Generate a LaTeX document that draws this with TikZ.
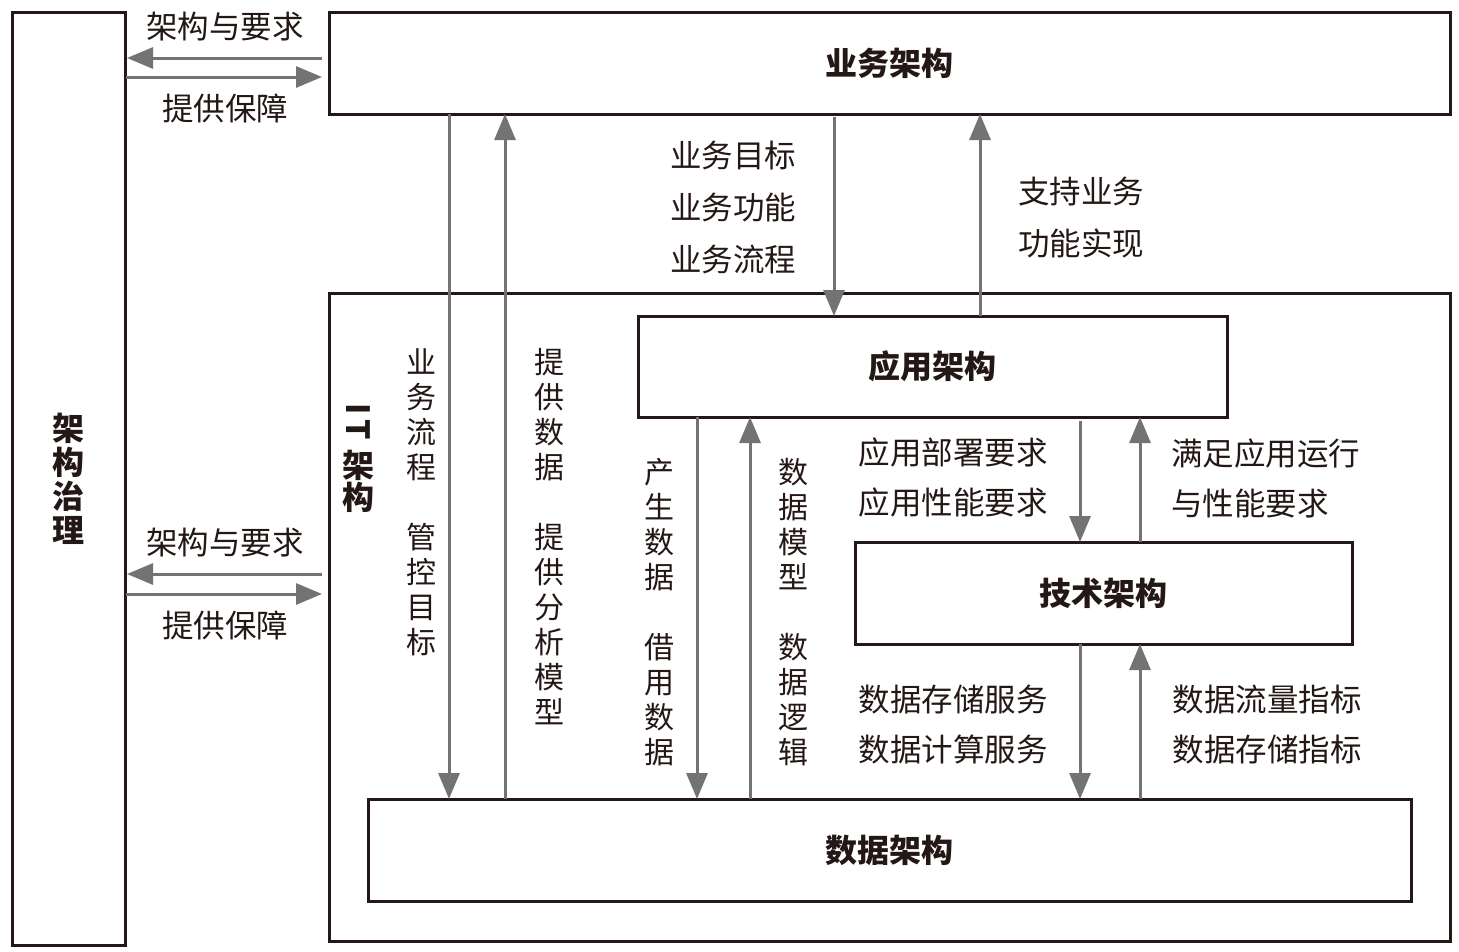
\documentclass[tikz,border=0pt]{standalone}
\usepackage{fontspec}
\setmainfont{Noto Sans CJK SC}
\usetikzlibrary{arrows.meta}
\definecolor{boxline}{HTML}{231815}
\definecolor{arrgray}{HTML}{737373}
\begin{document}
\begin{tikzpicture}[x=1pt,y=-1pt,
  box/.style={draw=boxline, line width=3pt, inner sep=0pt, outer sep=0pt, align=center,
    font=\fontsize{32}{34}\selectfont\bfseries, text=boxline},
  arr/.style={draw=arrgray, line width=3pt, -{Triangle[length=26pt,width=21pt]}},
  lbl/.style={font=\fontsize{31.5}{52}\selectfont, text=boxline, inner sep=0pt, align=center},
  lbl2/.style={font=\fontsize{31.5}{50}\selectfont, text=boxline, inner sep=0pt, align=center},
  vlbl/.style={font=\fontsize{30}{35}\selectfont, text=boxline, inner sep=0pt, align=center},
  blbl/.style={font=\fontsize{32}{32}\selectfont\bfseries, text=boxline, inner sep=0pt, align=center}
]
\useasboundingbox (0,0) rectangle (1459,951);
\fill[white] (0,0) rectangle (1459,951);

% boxes
\node[box, minimum width=113pt, minimum height=933pt] (gov) at (68.5,478.5) {架\\构\\治\\理};
\node[box, minimum width=1121pt, minimum height=102pt] (biz) at (889.5,63) {\raisebox{3pt}{业务架构}};
\node[box, minimum width=1121pt, minimum height=648pt] (it) at (889.5,617) {};
\node[box, minimum width=589pt, minimum height=101pt] (app) at (932.5,366.5) {\raisebox{3pt}{应用架构}};
\node[box, minimum width=497pt, minimum height=102pt] (tech) at (1103.5,593) {\raisebox{3pt}{技术架构}};
\node[box, minimum width=1043pt, minimum height=102pt] (data) at (889.5,850) {\raisebox{3pt}{数据架构}};

% IT label
\node[blbl, rotate=-90] (itl) at (358,422) {I\hspace{5pt}T};
\node[blbl] (itl2) at (358,481) {架\\构};

% x positions of vertical connectors
\coordinate (xa) at (449,0);
\coordinate (xb) at (505,0);
\coordinate (xc) at (834,0);
\coordinate (xd) at (980,0);
\coordinate (xe) at (697,0);
\coordinate (xf) at (750,0);
\coordinate (xg) at (1080,0);
\coordinate (xh) at (1140,0);
% y positions of horizontal connectors
\coordinate (ya) at (0,58);
\coordinate (yb) at (0,77);
\coordinate (yc) at (0,574);
\coordinate (yd) at (0,594);

% vertical connectors
\draw[arr] (xa |- biz.south) -- (xa |- data.north);
\draw[arr] (xb |- data.north) -- (xb |- biz.south);
\draw[arr, shorten <=3pt] (xc |- biz.south) -- (xc |- app.north);
\draw[arr] (xd |- app.north) -- (xd |- biz.south);
\draw[arr] (xe |- app.south) -- (xe |- data.north);
\draw[arr] (xf |- data.north) -- (xf |- app.south);
\draw[arr, shorten <=4pt] (xg |- app.south) -- (xg |- tech.north);
\draw[arr] (xh |- tech.north) -- (xh |- app.south);
\draw[arr] (xg |- tech.south) -- (xg |- data.north);
\draw[arr] (xh |- data.north) -- (xh |- tech.south);

% horizontal connectors
\draw[arr, shorten <=7pt, shorten >=2pt] (ya -| biz.west) -- (ya -| gov.east);
\draw[arr, shorten <=1pt, shorten >=7pt] (yb -| gov.east) -- (yb -| biz.west);
\draw[arr, shorten <=7pt, shorten >=2pt] (yc -| it.west) -- (yc -| gov.east);
\draw[arr, shorten <=1pt, shorten >=7pt] (yd -| gov.east) -- (yd -| it.west);

% labels
\node[lbl] (l1) at (225,27) {架构与要求};
\node[lbl] (l2) at (225,108) {提供保障};
\node[lbl] (l3) at (225,543) {架构与要求};
\node[lbl] (l4) at (225,625) {提供保障};

\node[lbl] (l5) at (733,207) {业务目标\\业务功能\\业务流程};
\node[lbl] (l6) at (1081,217.5) {支持业务\\功能实现};

\node[lbl2] (l7) at (953,478) {应用部署要求\\应用性能要求};
\node[lbl2, anchor=west, align=left] (l8) at (1171,478) {满足应用运行\\与性能要求};
\node[lbl2] (l9) at (953,725) {数据存储服务\\数据计算服务};
\node[lbl2] (l10) at (1267,725) {数据流量指标\\数据存储指标};

\node[vlbl] (v1) at (421,502) {业\\务\\流\\程\\[35pt]管\\控\\目\\标};
\node[vlbl] (v2) at (549,537) {提\\供\\数\\据\\[35pt]提\\供\\分\\析\\模\\型};
\node[vlbl] (v3) at (659,612) {产\\生\\数\\据\\[35pt]借\\用\\数\\据};
\node[vlbl] (v4) at (793,612) {数\\据\\模\\型\\[35pt]数\\据\\逻\\辑};
\end{tikzpicture}
\end{document}
